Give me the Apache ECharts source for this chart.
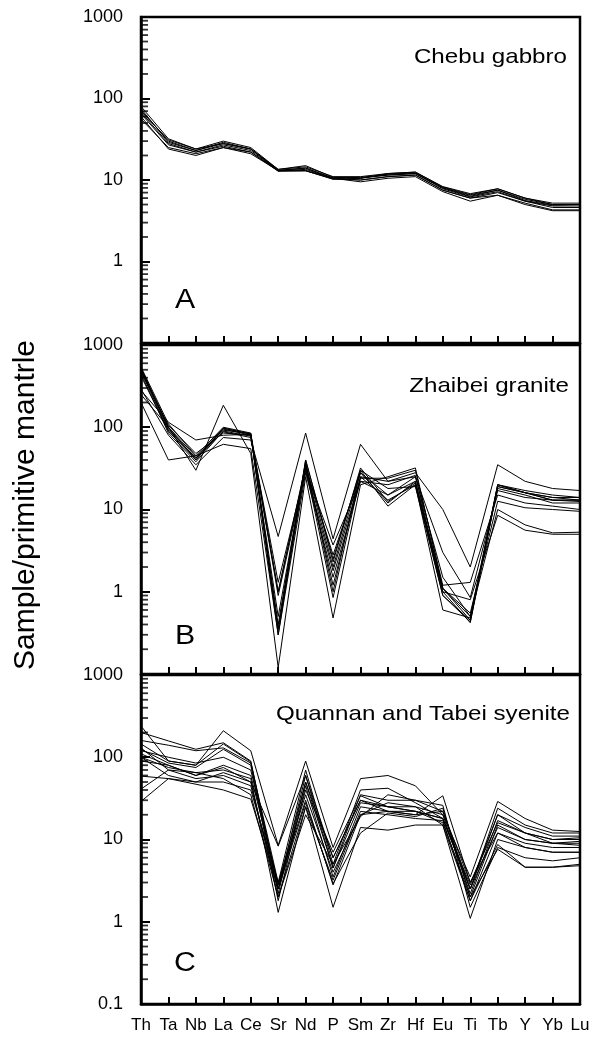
<!DOCTYPE html>
<html>
<head>
<meta charset="utf-8">
<script src="https://cdn.jsdelivr.net/npm/echarts@6/dist/echarts.min.js"></script>
<style>
html,body{margin:0;padding:0;background:#fff;}
#chart{width:606px;height:1039px;}
</style>
</head>
<body>
<div id="chart"></div>
<script>
// ---- data ----
const categories = ['Th','Ta','Nb','La','Ce','Sr','Nd','P','Sm','Zr','Hf','Eu','Ti','Tb','Y','Yb','Lu'];
const yTickLabelsAB = ['1000','100','10','1'];
const yTickLabelsC = ['1000','100','10','1','0.1'];
const decades = [0.1, 1, 10, 100];
const minorMultipliers = [2,3,4,5,6,7,8,9];

// Panel A: Chebu gabbro
const chebu1 = [80, 32, 24, 30, 25, 13.5, 15, 10.8, 10.5, 12, 12.5, 8.3, 6.8, 7.8, 6, 5.2, 5.2];
const chebu2 = [72, 30, 23, 28, 24, 13, 14, 10.5, 10.8, 11.5, 12, 8, 6.5, 7.5, 5.8, 5, 5];
const chebu3 = [68, 28, 22, 27, 23, 13, 13.5, 10.5, 10, 11, 11.5, 7.5, 6, 7, 5.5, 4.8, 4.8];
const chebu4 = [65, 27, 22, 26, 22, 12.8, 13, 10.2, 10.5, 11.5, 12, 7.8, 6.2, 7.2, 5.5, 4.6, 4.6];
const chebu5 = [60, 24, 20, 25, 21, 13, 13, 10.5, 9.5, 10.5, 11, 7.2, 5.5, 6.5, 5.2, 4.3, 4.3];
const chebu6 = [75, 29, 23, 29, 24, 13.5, 14.5, 11, 11, 12, 12.5, 8.2, 6.6, 7.8, 6, 5, 5];
const chebu7 = [56, 25, 21, 25, 22, 13, 13, 10.3, 10, 11, 11.5, 7.5, 6, 6.5, 5, 4.2, 4.2];
const chebu8 = [70, 31, 24, 28, 24, 13.2, 14, 10.6, 10.6, 11.8, 12.2, 8, 6.3, 7.5, 5.6, 4.9, 5];

// Panel B: Zhaibei granite
const zhai1  = [540, 110, 45, 100, 85, 1.0, 35, 2.0, 28, 12, 22, 1.1, 0.45, 20, 16, 14, 13];
const zhai2  = [500, 95, 42, 98, 82, 0.4, 38, 1.0, 30, 11, 20, 1.0, 0.42, 19, 16, 13, 12.5];
const zhai3  = [480, 90, 40, 95, 80, 0.35, 32, 0.85, 25, 13, 20, 0.6, 0.48, 18, 15, 12, 12];
const zhai4  = [520, 100, 44, 92, 84, 0.3, 40, 2.3, 32, 12.5, 21, 0.9, 0.45, 20, 17, 15, 14];
const zhai5  = [450, 85, 38, 90, 78, 1.3, 30, 3.7, 22, 15, 25, 3.0, 0.85, 17, 14, 13, 13];
const zhai6  = [290, 80, 35, 75, 70, 4.7, 85, 4.4, 62, 22, 28, 10, 2.0, 35, 22, 18, 17];
const zhai7  = [280, 115, 70, 80, 82, 0.9, 30, 1.8, 24, 24, 30, 1.2, 1.3, 15, 12, 11, 10];
const zhai8  = [250, 100, 30, 185, 48, 0.12, 25, 0.48, 20, 25, 32, 1.1, 0.5, 10, 6.5, 5.2, 5.3];
const zhai9  = [200, 40, 45, 62, 55, 0.3, 28, 1.5, 22, 20, 26, 1.0, 0.8, 8.5, 5.6, 5.0, 5.0];
const zhai10 = [520, 100, 40, 97, 83, 0.35, 40, 2.5, 30, 18, 19, 0.9, 0.43, 19, 16, 13, 13];
const zhai11 = [480, 105, 48, 85, 80, 0.5, 35, 1.2, 25, 22, 25, 1.5, 0.5, 20, 16, 14, 14];
const zhai12 = [420, 90, 42, 88, 75, 1.0, 33, 2.8, 28, 15, 22, 1.1, 0.55, 12.6, 10.5, 10, 9.5];

// Panel C: Quannan and Tabei syenite
const quan1  = [240, 90, 80, 210, 120, 8.5, 90, 8, 55, 60, 45, 20, 3.5, 29, 18, 13, 12.5];
const quan2  = [200, 158, 125, 150, 90, 2.5, 60, 4.5, 35, 30, 30, 22, 2.5, 24, 15, 12, 12];
const quan3  = [160, 140, 120, 130, 85, 3, 70, 5, 40, 42, 28, 18, 2.8, 20, 14, 11, 11];
const quan4  = [145, 90, 80, 145, 88, 2.2, 50, 6, 30, 25, 25, 20, 2.2, 17, 12, 10, 10.5];
const quan5  = [125, 85, 75, 125, 80, 1.8, 45, 3.5, 25, 22, 22, 16, 2, 15, 10, 9, 9.5];
const quan6  = [110, 80, 60, 80, 60, 2.8, 30, 2.8, 20, 28, 25, 15, 1.8, 12, 9, 8, 8];
const quan7  = [100, 75, 65, 70, 55, 1.3, 25, 1.5, 14, 13, 15, 15, 1.1, 10, 8, 7, 7];
const quan8  = [130, 70, 55, 60, 45, 2.5, 40, 7, 34, 25, 22, 18, 2.5, 14, 10, 9, 9];
const quan9  = [59, 55, 50, 50, 40, 3, 35, 4, 20, 22, 20, 34, 3, 12, 8, 7, 7];
const quan10 = [41, 70, 65, 55, 35, 2, 20, 5, 19, 35, 30, 26, 1.5, 8, 6, 5.5, 6];
const quan11 = [29, 55, 47, 40, 31, 2.5, 28, 2.9, 12, 21, 19, 24, 2, 7.6, 4.6, 4.6, 5];
const quan12 = [100, 60, 50, 65, 50, 8.3, 60, 6, 30, 22, 20, 22, 3, 16, 12, 10, 10];
const quan13 = [120, 100, 85, 100, 70, 2.8, 50, 4.5, 28, 25, 22, 18, 2.5, 20, 12, 9, 8.5];
const quan14 = [90, 80, 60, 75, 50, 2, 25, 3.2, 22, 20, 18, 17, 1.8, 8.7, 4.6, 4.6, 4.8];

const panelA = [chebu1, chebu2, chebu3, chebu4, chebu5, chebu6, chebu7, chebu8];
const panelB = [zhai1, zhai2, zhai3, zhai4, zhai5, zhai6, zhai7, zhai8, zhai9, zhai10, zhai11, zhai12];
const panelC = [quan1, quan2, quan3, quan4, quan5, quan6, quan7, quan8, quan9, quan10, quan11, quan12, quan13, quan14];
const panelTitles = ['Chebu gabbro', 'Zhaibei granite', 'Quannan and Tabei syenite'];
const panelLetters = ['A', 'B', 'C'];
const yTitle = 'Sample/primitive mantrle';

// ---- chart ----
const FONT = 'Liberation Sans, Arial, sans-serif';
const grids = [
  {left: 141, width: 439, top: 17, height: 326},
  {left: 141, width: 439, top: 345, height: 329},
  {left: 141, width: 439, top: 675, height: 329}
];
const minorTicks = [];
decades.forEach(d => minorMultipliers.forEach(m => minorTicks.push([categories[0], +(d * m).toPrecision(3)])));

const xAxes = grids.map((g, i) => ({
  type: 'category', gridIndex: i, data: categories, boundaryGap: false,
  axisLine: {show: true, lineStyle: {color: '#000', width: 2.5}},
  axisTick: {show: true, inside: true, length: 7, lineStyle: {color: '#000', width: 2}},
  axisLabel: {show: i === 2, color: '#000', fontSize: 17, fontFamily: FONT, margin: 13, interval: 0},
  splitLine: {show: false}
}));
const yAxes = grids.map((g, i) => {
  const labels = i === 2 ? yTickLabelsC : yTickLabelsAB;
  return {
    type: 'log', logBase: 10, gridIndex: i, min: 0.1, max: 1000,
    axisLine: {show: true, lineStyle: {color: '#000', width: 2.5}},
    axisTick: {show: true, inside: true, length: 9, lineStyle: {color: '#000', width: 2}},
    axisLabel: {
      color: '#000', fontSize: 18, fontFamily: FONT, margin: 18,
      formatter: v => {
        const s = String(+Number(v).toPrecision(3));
        return labels.indexOf(s) >= 0 ? s : '';
      }
    },
    splitLine: {show: false}
  };
});

const series = [];
[panelA, panelB, panelC].forEach((panel, i) => {
  panel.forEach(vals => series.push({
    type: 'line', xAxisIndex: i, yAxisIndex: i, data: vals,
    symbol: 'none', silent: true, animation: false,
    lineStyle: {color: '#000', width: 1}
  }));
  // minor ticks on the log axis (2..9 per decade)
  series.push({
    type: 'scatter', xAxisIndex: i, yAxisIndex: i, data: minorTicks, silent: true, z: 5,
    animation: false, symbol: 'rect', symbolSize: [7, 1.8], symbolOffset: [3.5, 0],
    itemStyle: {color: '#000'}
  });
});

const titleY = [57, 386, 714];
const titleX = [567, 569, 570];
const letterY = [301, 637, 964];
const graphic = [];
panelTitles.forEach((t, i) => graphic.push({
  type: 'text', x: titleX[i], y: titleY[i], scaleX: 1.15, silent: true,
  style: {text: t, fill: '#000', fontSize: 21, fontFamily: FONT,
          align: 'right', textAlign: 'right', verticalAlign: 'middle', textVerticalAlign: 'middle'}
}));
panelLetters.forEach((t, i) => graphic.push({
  type: 'text', x: 185, y: letterY[i], scaleX: 1.12, silent: true,
  style: {text: t, fill: '#000', fontSize: 27, fontFamily: FONT,
          align: 'center', textAlign: 'center', verticalAlign: 'middle', textVerticalAlign: 'middle'}
}));
graphic.push({
  type: 'text', x: 26, y: 505, rotation: Math.PI / 2, silent: true,
  style: {text: yTitle, fill: '#000', fontSize: 30, fontFamily: FONT,
          align: 'center', textAlign: 'center', verticalAlign: 'middle', textVerticalAlign: 'middle'}
});

const chart = echarts.init(document.getElementById('chart'), null, {renderer: 'canvas'});
chart.setOption({
  animation: false,
  backgroundColor: '#fff',
  grid: grids.map(g => Object.assign({show: true, borderColor: '#000', borderWidth: 2.5}, g)),
  xAxis: xAxes,
  yAxis: yAxes,
  series: series,
  graphic: graphic
});
</script>
</body>
</html>
